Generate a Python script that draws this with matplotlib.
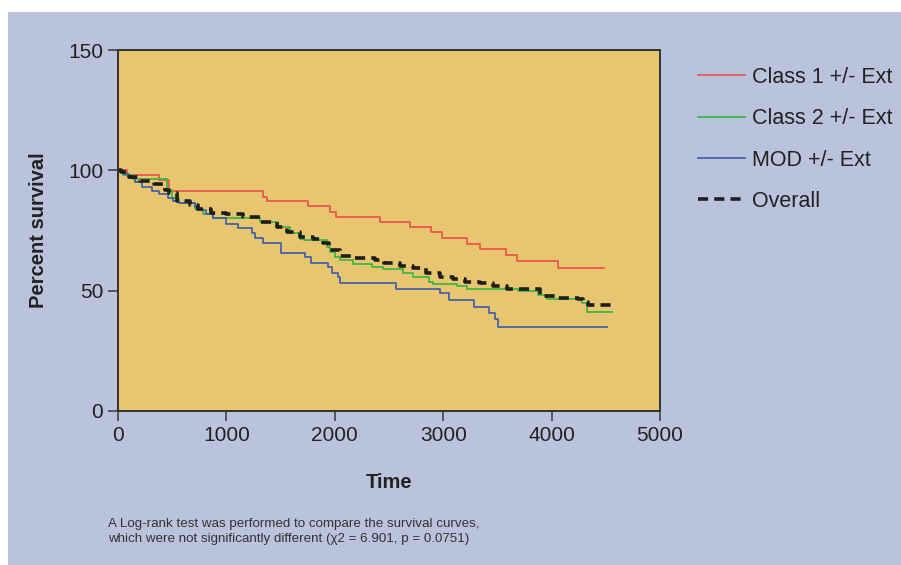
import matplotlib
matplotlib.use("Agg")
import matplotlib.pyplot as plt
from matplotlib.patches import Rectangle

# --- data (time, percent survival), step-post ---
t_class1 = [0, 80, 380, 470, 1340, 1370, 1750, 1955, 2010, 2420, 2690, 2885, 2985,
            3215, 3335, 3580, 3685, 4060, 4485]
s_class1 = [100, 97.9, 96, 91.5, 89, 87.2, 85.3, 82.8, 80.7, 78.6, 76.6, 74.2, 71.7,
            69.4, 67.2, 64.8, 62.3, 59.5, 59.5]

t_class2 = [0, 50, 140, 450, 500, 560, 710, 780, 880, 1310, 1480, 1590, 1680, 1720,
            1925, 1960, 2000, 2050, 2170, 2340, 2445, 2630, 2725, 2865, 2910, 3125,
            3215, 3690, 3875, 3955, 4280, 4325, 4560]
s_class2 = [100, 98, 96.4, 92, 88.5, 86.5, 84, 82, 80, 78.4, 76.5, 73.8, 71.5, 71,
            68, 66, 64, 62.7, 61, 59.9, 58.9, 57.4, 55.5, 53.7, 52.8, 51.9,
            50.8, 50, 48.2, 46.5, 44.7, 41, 41]

t_mod = [0, 50, 100, 155, 225, 310, 380, 465, 510, 560, 710, 730, 815, 880, 1000,
         1110, 1235, 1265, 1340, 1500, 1725, 1780, 1940, 1970, 2025, 2050, 2565,
         2970, 3050, 3280, 3425, 3480, 3510, 4515]
s_mod = [100, 98.5, 97, 95, 93.2, 91.5, 90.2, 88.6, 87.2, 86.6, 84.9, 83.5, 81.7, 80,
         77.9, 75.9, 73.8, 71.7, 69.9, 65.8, 63.8, 61.6, 59.7, 57.5, 55.5, 53, 50.8,
         48.9, 46.1, 43.3, 40.8, 38.1, 35, 35]

t_all = [0, 30, 100, 200, 330, 430, 470, 540, 665, 740, 860, 1000, 1155, 1310, 1465,
         1555, 1680, 1800, 1895, 1950, 2050, 2155, 2370, 2450, 2600, 2725, 2845,
         2970, 3095, 3200, 3340, 3460, 3585, 3890, 4030, 4245, 4290, 4335, 4560]
s_all = [100, 99.5, 97.4, 95.7, 94.3, 92, 90.4, 87.4, 85.6, 83.8, 82.4, 81.7, 80.7,
         78.6, 76.6, 74.5, 72.4, 71.3, 69.6, 66.9, 64.4, 63.4, 62.7, 61.6, 60.4,
         59.3, 57.2, 55.8, 54.8, 53.7, 53, 52, 50.5, 47.8, 47.1, 46.5, 45.4, 44, 44]

x_ticks = [0, 1000, 2000, 3000, 4000, 5000]
y_ticks = [0, 50, 100, 150]

plt.rcParams["font.family"] = ["Liberation Sans", "DejaVu Sans"]

fig = plt.figure(figsize=(9.01, 5.65), dpi=100, facecolor="white")
# lavender panel with thin white margin at top/left
fig.patches.append(Rectangle((8 / 901, 0), 1, 1 - 12 / 565, transform=fig.transFigure,
                             facecolor="#bac3dc", edgecolor="none", zorder=-10))

ax = fig.add_axes([118 / 901, 1 - 411 / 565, 542 / 901, 361 / 565])
ax.set_facecolor("#e8c56f")

ax.step(t_class1, s_class1, where="post", color="#ee4f4a", lw=1.2, label="Class 1 +/- Ext")
ax.step(t_class2, s_class2, where="post", color="#33b542", lw=1.2, label="Class 2 +/- Ext")
ax.step(t_mod, s_mod, where="post", color="#3a5bb0", lw=1.2, label="MOD +/- Ext")
ax.step(t_all, s_all, where="post", color="#1e1e1e", lw=2.6, linestyle=(0, (2.8, 1.7)),
        label="Overall")

ax.set_xlim(0, 5000)
ax.set_ylim(0, 150)
ax.set_xticks(x_ticks)
ax.set_yticks(y_ticks)
ax.tick_params(axis="both", direction="out", length=7.2, width=1.2, color="#444",
               labelsize=15, labelcolor="#222", pad=3.5)
for sp in ax.spines.values():
    sp.set_color("#333")
    sp.set_linewidth(1.4)

ax.set_xlabel("Time", fontsize=14.5, fontweight="bold", color="#222", va="center")
ax.xaxis.set_label_coords(0.5, (411 - 483) / 361)
ax.set_ylabel("Percent survival", fontsize=14.5, fontweight="bold", color="#222",
              va="center")
ax.yaxis.set_label_coords((38 - 118) / 542, 0.5)

leg = fig.legend(loc="upper left", bbox_to_anchor=(689 / 901, 1 - 58 / 565),
                 frameon=False, fontsize=15.5, handlelength=2.2, handletextpad=0.33,
                 labelspacing=0.95, borderaxespad=0)
for txt in leg.get_texts():
    txt.set_color("#222")

fig.text(108 / 901, 1 - 531.5 / 565,
         "A Log-rank test was performed to compare the survival curves,\n"
         "which were not significantly different (\u03c72 = 6.901, p = 0.0751)",
         fontsize=9.6, color="#333", va="center", ha="left", linespacing=1.3)

fig.savefig("out.png", dpi=100, facecolor=fig.get_facecolor())
